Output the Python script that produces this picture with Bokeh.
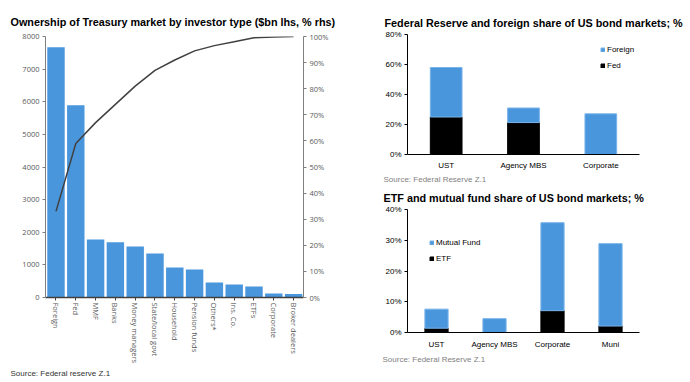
from bokeh.plotting import figure
from bokeh.models import (Range1d, LinearAxis, FixedTicker, Legend, LegendItem, Title,
                          PrintfTickFormatter, ColumnDataSource)
from bokeh.layouts import row, column
from bokeh.embed import file_html
from bokeh.resources import INLINE

# ---------------- data ----------------
holders = ["Foreign", "Fed", "MMF", "Banks", "Money managers", "State/local govt",
           "Household", "Pension funds", "Others*", "Ins. Co.", "ETFs", "Corporate",
           "Broker dealers"]
holdings_bn = [7670, 5890, 1780, 1690, 1560, 1350, 920, 860, 460, 400, 340, 120, 110]
cum_share_pct = [33, 59, 67, 74, 81, 87, 91, 94.5, 96.5, 98, 99.5, 99.8, 100]
left_ticks = [0, 1000, 2000, 3000, 4000, 5000, 6000, 7000, 8000]
right_ticks = [0, 10, 20, 30, 40, 50, 60, 70, 80, 90, 100]

mkts1 = ["UST", "Agency MBS", "Corporate"]
fed_share = [25, 21.3, 0]
foreign_share = [33, 9.7, 27.1]
ticks1 = [0, 20, 40, 60, 80]

mkts2 = ["UST", "Agency MBS", "Corporate", "Muni"]
etf_share = [1.4, 0, 7.1, 2.1]
mf_share = [6.2, 4.5, 28.6, 26.8]
ticks2 = [0, 10, 20, 30, 40]

BLUE = "#4a96dc"
BLUE_EDGE = "#78b3e9"
ARIAL = "Liberation Sans"
GREY_FONT = "Open Sans"
TITLE_SIZE = "10.8px"


def base_fig(w, h, xr, yr, bl, br, bt, bb):
    p = figure(width=w, height=h, x_range=xr, y_range=yr, output_backend="svg",
               toolbar_location=None, title=None, min_border_left=bl, min_border_right=br,
               min_border_top=bt, min_border_bottom=bb)
    p.outline_line_color = None
    p.xgrid.grid_line_color = None
    p.ygrid.grid_line_color = None
    p.background_fill_color = "white"
    p.border_fill_color = "white"
    return p


def add_title(p, text, offset, standoff):
    p.add_layout(Title(text=text, align="left", offset=offset, standoff=standoff,
                       text_font=ARIAL, text_font_style="bold", text_font_size=TITLE_SIZE,
                       text_color="black"), "above")


def add_source(p, text, offset, standoff, color, side="below"):
    p.add_layout(Title(text=text, align="left", offset=offset, standoff=standoff,
                       text_font=ARIAL, text_font_style="normal", text_font_size="8px",
                       text_color=color), side)


# ---------------- left chart ----------------
n = len(holders)
xs = list(range(n))
pl = base_fig(350, 382, Range1d(-0.53, n - 0.5), Range1d(0, 8000), 45, 47, 36, 85)
pl.extra_y_ranges = {"pct": Range1d(0, 100)}
pl.vbar(x=xs, top=holdings_bn, width=0.88, fill_color=BLUE, line_color=None)
pl.line(x=xs, y=cum_share_pct, y_range_name="pct", line_color="#404040", line_width=1.5)

ya = pl.yaxis[0]
ya.ticker = FixedTicker(ticks=left_ticks)
ya.axis_line_color = "#7f7f7f"
ya.major_tick_line_color = "#7f7f7f"
ya.major_tick_out = 3
ya.major_tick_in = 0
ya.minor_tick_line_color = None
ya.major_label_standoff = 3
ya.major_label_text_font = GREY_FONT
ya.major_label_text_font_size = "7.5px"
ya.major_label_text_color = "#595959"

ra = LinearAxis(y_range_name="pct", ticker=FixedTicker(ticks=right_ticks),
                formatter=PrintfTickFormatter(format="%d%%"))
ra.axis_line_color = "#7f7f7f"
ra.major_tick_line_color = "#7f7f7f"
ra.major_tick_out = 3
ra.major_tick_in = 0
ra.minor_tick_line_color = None
ra.major_label_standoff = 3
ra.major_label_text_font = GREY_FONT
ra.major_label_text_font_size = "7.5px"
ra.major_label_text_color = "#595959"
pl.add_layout(ra, "right")

xa = pl.xaxis[0]
xa.ticker = FixedTicker(ticks=xs)
xa.major_label_overrides = {i: h for i, h in enumerate(holders)}
xa.major_label_orientation = "vertical"
xa.axis_line_color = "#404040"
xa.axis_line_width = 1.5
xa.major_tick_line_color = "#404040"
xa.major_tick_out = 3
xa.major_tick_in = 0
xa.minor_tick_line_color = None
xa.major_label_standoff = 2
xa.major_label_text_font = GREY_FONT
xa.major_label_text_font_size = "7.5px"
xa.major_label_text_color = "#595959"

add_title(pl, "Ownership of Treasury market by investor type ($bn lhs, % rhs)", -35, 18)
add_source(pl, "Source: Federal reserve Z.1", -35, 0, "#333333")


def style_right(p, ticks, cats, xstand):
    y = p.yaxis[0]
    y.ticker = FixedTicker(ticks=ticks)
    y.formatter = PrintfTickFormatter(format="%d%%")
    y.axis_line_color = "black"
    y.major_tick_line_color = "black"
    y.major_tick_out = 3
    y.major_tick_in = 0
    y.minor_tick_line_color = None
    y.major_label_standoff = 3
    y.major_label_text_font = ARIAL
    y.major_label_text_font_size = "8px"
    y.major_label_text_color = "black"
    x = p.xaxis[0]
    x.ticker = FixedTicker(ticks=list(range(len(cats))))
    x.major_label_overrides = {i: c for i, c in enumerate(cats)}
    x.axis_line_color = "black"
    x.major_tick_line_color = None
    x.minor_tick_line_color = None
    x.major_label_standoff = xstand
    x.major_label_text_font = ARIAL
    x.major_label_text_font_size = "8px"
    x.major_label_text_color = "black"


# ---------------- top-right chart ----------------
src1 = ColumnDataSource(dict(x=list(range(len(mkts1))), fed=fed_share, foreign=foreign_share))
pt = base_fig(340, 172, Range1d(-0.5, len(mkts1) - 0.5), Range1d(0, 80), 55, 48, 34, 17)
r1 = pt.vbar_stack(["fed", "foreign"], x="x", width=0.41, source=src1,
                   fill_color=["black", BLUE], line_color=["black", BLUE_EDGE])
style_right(pt, ticks1, mkts1, 0)
leg1 = Legend(items=[LegendItem(label="Foreign", renderers=[r1[1]]),
                     LegendItem(label="Fed", renderers=[r1[0]])],
              location=(193, 84))
add_title(pt, "Federal Reserve and foreign share of US bond markets; %", -23, 12)

# ---------------- bottom-right chart ----------------
src2 = ColumnDataSource(dict(x=list(range(len(mkts2))), etf=etf_share, mf=mf_share))
pb = base_fig(340, 210, Range1d(-0.5, len(mkts2) - 0.5), Range1d(0, 40), 57, 51, 37, 50)
r2 = pb.vbar_stack(["etf", "mf"], x="x", width=0.4, source=src2,
                   fill_color=["black", BLUE], line_color=["black", BLUE_EDGE])
style_right(pb, ticks2, mkts2, 1)
leg2 = Legend(items=[LegendItem(label="Mutual Fund", renderers=[r2[1]]),
                     LegendItem(label="ETF", renderers=[r2[0]])],
              location=(22, 69))
add_title(pb, "ETF and mutual fund share of US bond markets; %", -24, 12)
# source line of the upper chart sits just above the lower chart's title
add_source(pb, "Source: Federal Reserve Z.1", -24, 0, "#7f7f7f", side="above")
add_source(pb, "Source: Federal Reserve Z.1", -25, 2, "#7f7f7f")

for lg in (leg1, leg2):
    lg.border_line_color = None
    lg.background_fill_alpha = 0
    lg.padding = 0
    lg.margin = 0
    lg.spacing = 6
    lg.glyph_width = 5
    lg.glyph_height = 5
    lg.label_height = 10
    lg.label_standoff = 2
    lg.label_text_font = ARIAL
    lg.label_text_font_size = "8px"
    lg.label_text_color = "black"
    lg.label_text_baseline = "middle"
pt.add_layout(leg1)
pb.add_layout(leg2)

layout = row(pl, column(pt, pb))
open("out.html", "w").write(file_html(layout, INLINE))
